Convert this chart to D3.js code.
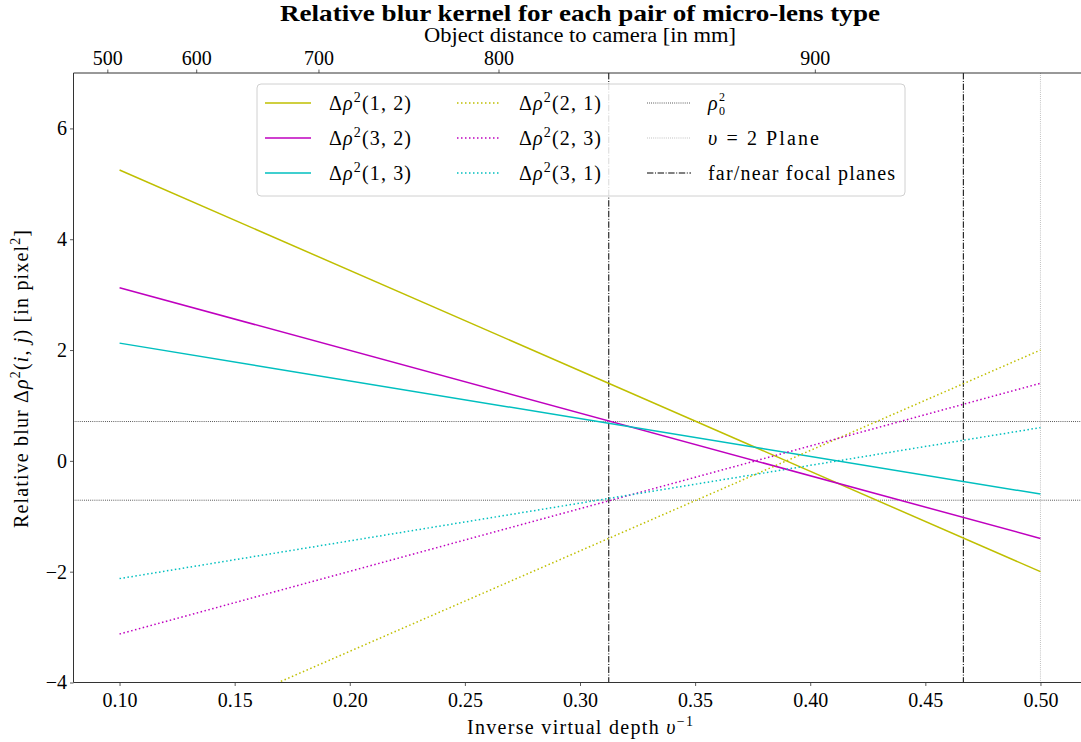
<!DOCTYPE html>
<html>
<head>
<meta charset="utf-8">
<script src="https://cdn.jsdelivr.net/npm/d3@7"></script>
<style>
  html, body { margin: 0; padding: 0; background: #fff; }
  svg { display: block; }
  text { font-family: "Liberation Serif", "DejaVu Serif", serif; fill: #000; }
</style>
</head>
<body>
<svg id="chart" width="1081" height="742"></svg>
<script>
// ---------------- DATA ----------------
const xSamples = [0.10, 0.50];                 // inverse virtual depth sample points
const rho12 = [5.25, -2.00];
const rho32 = [3.125, -1.40];
const rho13 = [2.125, -0.60];
const rho21 = [-5.25, 2.00];
const rho23 = [-3.125, 1.40];
const rho31 = [-2.125, 0.60];
const rho0sq = 0.71;                            // threshold (+/-)
const v2Plane = 0.50;                           // υ = 2 plane
const focalPlanes = [0.3125, 0.4665];           // far / near focal planes
const xTicks = [0.10, 0.15, 0.20, 0.25, 0.30, 0.35, 0.40, 0.45, 0.50];
const yTicks = [-4, -2, 0, 2, 4, 6];
const topTickLabels = [500, 600, 700, 800, 900];           // object distance [mm]
const topTickPositions = [0.0947, 0.1333, 0.1864, 0.2646, 0.4020]; // in inverse depth

const series = [
  { key: "12", vals: rho12, color: "#bfbf00", dotted: false, pair: "(1, 2)" },
  { key: "32", vals: rho32, color: "#bf00bf", dotted: false, pair: "(3, 2)" },
  { key: "13", vals: rho13, color: "#00bfbf", dotted: false, pair: "(1, 3)" },
  { key: "21", vals: rho21, color: "#bfbf00", dotted: true,  pair: "(2, 1)" },
  { key: "23", vals: rho23, color: "#bf00bf", dotted: true,  pair: "(2, 3)" },
  { key: "31", vals: rho31, color: "#00bfbf", dotted: true,  pair: "(3, 1)" }
];

// ---------------- LAYOUT ----------------
const svg = d3.select("#chart");
const L = 73.5, R = 1086.5, T = 73, B = 682.5;
const x = d3.scaleLinear().domain([0.08, 0.52]).range([L, R]);
const y = d3.scaleLinear().domain([-4, 7]).range([B, T]);
const SERIF = '"Liberation Serif", "DejaVu Serif", serif';

svg.append("defs").append("clipPath").attr("id", "plotclip")
  .append("rect").attr("x", L).attr("y", T).attr("width", R - L).attr("height", B - T);

const plot = svg.append("g").attr("clip-path", "url(#plotclip)");

// reference lines
plot.selectAll("line.rho0").data([rho0sq, -rho0sq]).enter().append("line")
  .attr("x1", L).attr("x2", R).attr("y1", d => y(d)).attr("y2", d => y(d))
  .attr("stroke", "#000").attr("stroke-width", 0.8).attr("stroke-dasharray", "0.8,1.3");

plot.append("line")
  .attr("x1", x(v2Plane)).attr("x2", x(v2Plane)).attr("y1", T).attr("y2", B)
  .attr("stroke", "#a0a0a0").attr("stroke-width", 0.8).attr("stroke-dasharray", "0.8,1.3");

plot.selectAll("line.focal").data(focalPlanes).enter().append("line")
  .attr("x1", d => x(d)).attr("x2", d => x(d)).attr("y1", T).attr("y2", B)
  .attr("stroke", "#000").attr("stroke-width", 1).attr("stroke-dasharray", "6.4,1.6,1,1.6");

// series
const lineGen = d3.line().x((d, i) => x(xSamples[i])).y(d => y(d));
plot.selectAll("path.series").data(series).enter().append("path")
  .attr("d", d => lineGen(d.vals))
  .attr("fill", "none")
  .attr("stroke", d => d.color)
  .attr("stroke-width", 1.5)
  .attr("stroke-dasharray", d => d.dotted ? "1.5,2.5" : null);

// ---------------- AXES ----------------
const axisColor = "#333";
function styleAxis(g) {
  g.attr("font-family", SERIF).attr("font-size", 20);
  g.select(".domain").remove();
  g.selectAll(".tick line").attr("stroke", axisColor).attr("stroke-width", 0.8);
  g.selectAll(".tick text").attr("fill", "#000").style("font-size", "20px").style("font-family", SERIF);
}

const xAxis = svg.append("g").attr("transform", `translate(0,${B})`)
  .call(d3.axisBottom(x).tickValues(xTicks).tickFormat(d3.format(".2f")).tickSizeOuter(0).tickSize(3.5).tickPadding(7));
styleAxis(xAxis);

const yAxis = svg.append("g").attr("transform", `translate(${L},0)`)
  .call(d3.axisLeft(y).tickValues(yTicks).tickFormat(d => d < 0 ? "\u2212" + Math.abs(d) : d).tickSizeOuter(0).tickSize(3.5).tickPadding(3));
styleAxis(yAxis);

const topAxis = svg.append("g").attr("transform", `translate(0,${T})`)
  .call(d3.axisTop(x).tickValues(topTickPositions)
    .tickFormat((d, i) => topTickLabels[i]).tickSizeOuter(0).tickSize(3.5).tickPadding(5));
styleAxis(topAxis);

// spines
[[L, R, B, B], [L, R, T, T], [L, L, T, B], [R, R, T, B]].forEach(s => {
  svg.append("line").attr("x1", s[0]).attr("x2", s[1]).attr("y1", s[2]).attr("y2", s[3])
    .attr("stroke", axisColor).attr("stroke-width", 1);
});

// ---------------- TEXT HELPERS ----------------
function rich(g, parts, size) {
  const t = g.append("text").style("font-size", size + "px").style("font-family", SERIF);
  parts.forEach(p => {
    const ts = t.append("tspan").text(p.t);
    if (p.it) ts.style("font-style", "italic");
    if (p.sup) { ts.style("font-size", (size * 0.7) + "px").attr("dy", -size * 0.38); }
    if (p.dx != null) ts.attr("dx", p.dx);
    if (p.back != null) ts.attr("dy", p.back);
  });
  return t;
}

const cx = (L + R) / 2;

// title
svg.append("text").attr("x", cx).attr("y", 21).attr("text-anchor", "middle")
  .style("font-size", "23px").style("font-weight", "bold")
  .attr("textLength", 600).attr("lengthAdjust", "spacingAndGlyphs")
  .text("Relative blur kernel for each pair of micro-lens type");

// top axis label
svg.append("text").attr("x", cx).attr("y", 42).attr("text-anchor", "middle")
  .style("font-size", "20px")
  .attr("textLength", 312).attr("lengthAdjust", "spacingAndGlyphs")
  .text("Object distance to camera [in mm]");

// x label
const xl = rich(svg, [
  { t: "Inverse virtual depth " }, { t: "\u03C5", it: true }, { t: "\u22121", sup: true }
], 20);
xl.attr("x", 467).attr("y", 734).attr("textLength", 226).attr("lengthAdjust", "spacing");

// y label
const yl = rich(svg, [
  { t: "Relative blur \u0394" }, { t: "\u03C1", it: true }, { t: "2", sup: true },
  { t: "(", back: 20 * 0.38 }, { t: "i", it: true }, { t: ", " }, { t: "j", it: true }, { t: ") [in pixel" },
  { t: "2", sup: true }, { t: "]", back: 20 * 0.38 }
], 20);
yl.attr("x", 0).attr("y", 0).attr("textLength", 298).attr("lengthAdjust", "spacing")
  .attr("transform", `translate(28,528) rotate(-90)`);

// ---------------- LEGEND ----------------
const leg = svg.append("g");
leg.append("rect").attr("x", 257).attr("y", 84).attr("width", 648).attr("height", 112)
  .attr("rx", 4).attr("fill", "#fff").attr("fill-opacity", 0.85)
  .attr("stroke", "#d0d0d0").attr("stroke-width", 1);

const rowY = [103, 138, 173];
const colHandle = [[265, 311], [457, 501], [647, 691]];
const colText = [329, 519, 708];

series.forEach((s, i) => {
  const c = s.dotted ? 1 : 0, r = i % 3;
  leg.append("line").attr("x1", colHandle[c][0]).attr("x2", colHandle[c][1])
    .attr("y1", rowY[r]).attr("y2", rowY[r])
    .attr("stroke", s.color).attr("stroke-width", 1.5)
    .attr("stroke-dasharray", s.dotted ? "1.5,2.5" : null);
  const t = rich(leg, [{ t: "\u0394" }, { t: "\u03C1", it: true }, { t: "2", sup: true }, { t: s.pair, back: 20 * 0.38 }], 20);
  t.attr("x", colText[c]).attr("y", rowY[r] + 7).attr("textLength", 82).attr("lengthAdjust", "spacing");
});

const refLegend = [
  { stroke: "#000", dash: "0.8,1.3", w: 0.8 },
  { stroke: "#a0a0a0", dash: "0.8,1.3", w: 0.8 },
  { stroke: "#000", dash: "6.4,1.6,1,1.6", w: 1 }
];
refLegend.forEach((d, r) => {
  leg.append("line").attr("x1", colHandle[2][0]).attr("x2", colHandle[2][1])
    .attr("y1", rowY[r]).attr("y2", rowY[r])
    .attr("stroke", d.stroke).attr("stroke-width", d.w).attr("stroke-dasharray", d.dash);
});
// rho_0^2 : rho with stacked sub/superscript (separate small texts)
leg.append("text").attr("x", colText[2]).attr("y", rowY[0] + 7)
  .style("font-size", "20px").style("font-style", "italic").text("\u03C1");
leg.append("text").attr("x", colText[2] + 11).attr("y", rowY[0] - 2)
  .style("font-size", "12px").text("2");
leg.append("text").attr("x", colText[2] + 11).attr("y", rowY[0] + 12)
  .style("font-size", "12px").text("0");

const r1 = rich(leg, [{ t: "\u03C5", it: true }, { t: " = 2 Plane" }], 20);
r1.attr("x", colText[2]).attr("y", rowY[1] + 7).attr("textLength", 111).attr("lengthAdjust", "spacing");
leg.append("text").attr("x", colText[2]).attr("y", rowY[2] + 7).style("font-size", "20px")
  .attr("textLength", 187).attr("lengthAdjust", "spacing")
  .text("far/near focal planes");
</script>
</body>
</html>
